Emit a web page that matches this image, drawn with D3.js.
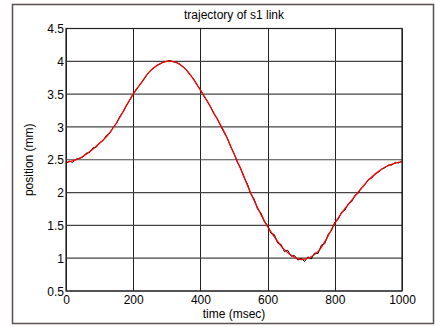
<!DOCTYPE html>
<html>
<head>
<meta charset="utf-8">
<script src="https://cdn.jsdelivr.net/npm/d3@7/dist/d3.min.js"></script>
<style>
  html, body { margin: 0; padding: 0; background: #fff; }
  svg { display: block; }
  text { font-family: "Liberation Sans", Arial, sans-serif; fill: #000; }
</style>
</head>
<body>
<svg id="chart" width="436" height="327"></svg>
<script>
// Reference (smooth) trajectory, sampled every 25 ms
const refTime = [0,25,50,75,100,125,150,175,200,225,250,275,300,325,350,375,400,425,450,475,500,
  525,550,575,600,625,650,675,700,725,750,775,800,825,850,875,900,925,950,975,1000];
const refPos = [2.46,2.49,2.55,2.64,2.75,2.88,3.06,3.28,3.50,3.68,3.85,3.95,4.00,3.99,3.91,3.76,3.56,
  3.35,3.12,2.88,2.59,2.30,1.99,1.72,1.48,1.29,1.13,1.03,0.98,1.01,1.10,1.29,1.53,1.72,1.88,2.04,
  2.19,2.30,2.39,2.44,2.47];

// Measured position of the s1 link, sampled every 10 ms
const measTime = d3.range(0, 1001, 10);
const measPos = [2.44,2.48,2.46,2.51,2.52,2.54,2.60,2.61,2.68,2.69,
  2.76,2.79,2.87,2.90,2.99,3.05,3.16,3.23,3.33,3.41,
  3.50,3.58,3.64,3.71,3.79,3.85,3.89,3.94,3.96,3.99,
  4.00,4.01,3.99,3.98,3.95,3.91,3.86,3.79,3.73,3.64,
  3.57,3.47,3.40,3.31,3.20,3.13,3.02,2.92,2.83,2.70,
  2.60,2.46,2.37,2.23,2.13,1.98,1.90,1.75,1.69,1.56,
  1.50,1.38,1.36,1.23,1.21,1.10,1.12,1.03,1.04,0.97,
  1.00,0.95,1.02,0.99,1.08,1.07,1.20,1.22,1.36,1.42,
  1.55,1.59,1.70,1.73,1.83,1.86,1.96,1.99,2.08,2.12,
  2.20,2.22,2.29,2.31,2.36,2.38,2.42,2.42,2.46,2.45,
  2.48];

const xTicks = [0, 200, 400, 600, 800, 1000];
const yTicks = [0.5, 1, 1.5, 2, 2.5, 3, 3.5, 4, 4.5];

const svg = d3.select("#chart");
const plot = { left: 66, right: 402, top: 28.5, bottom: 291 };
const fontSize = "12px";

// Outer figure frame
svg.append("rect")
  .attr("x", 12.5).attr("y", 4.5)
  .attr("width", 421).attr("height", 319)
  .attr("fill", "#fff")
  .attr("stroke", "#5b4f4f").attr("stroke-width", 1.5);

const x = d3.scaleLinear().domain([0, 1000]).range([plot.left, plot.right]);
const y = d3.scaleLinear().domain([0.5, 4.5]).range([plot.bottom, plot.top]);

// Grid
const grid = svg.append("g");
grid.selectAll("line.vx").data(xTicks).join("line")
  .attr("x1", d => Math.round(x(d)) + 0.5).attr("x2", d => Math.round(x(d)) + 0.5)
  .attr("y1", plot.top).attr("y2", plot.bottom)
  .attr("stroke", "#222").attr("stroke-width", 1);
grid.selectAll("line.hy").data(yTicks).join("line")
  .attr("x1", plot.left).attr("x2", plot.right)
  .attr("y1", d => y(d)).attr("y2", d => y(d))
  .attr("stroke", "#444").attr("stroke-width", 1.2);

// Axes
const xAxis = d3.axisBottom(x).tickValues(xTicks).tickSize(0).tickPadding(4)
  .tickFormat(d3.format("d"));
const yAxis = d3.axisLeft(y).tickValues(yTicks).tickSize(0).tickPadding(2)
  .tickFormat(d => String(d));

const gx = svg.append("g").attr("transform", `translate(0,${plot.bottom})`).call(xAxis);
const gy = svg.append("g").attr("transform", `translate(${plot.left},0)`).call(yAxis);
[gx, gy].forEach(g => {
  g.select(".domain").remove();
  g.selectAll("text").style("font-size", fontSize).style("font-family", "Liberation Sans, Arial, sans-serif");
});
gy.selectAll("text").attr("dy", "0.35em");

// Curves
const line = d3.line().x(d => x(d[0])).y(d => y(d[1]));
svg.append("path")
  .datum(measTime.map((t, i) => [t, measPos[i]]))
  .attr("d", line)
  .attr("fill", "none").attr("stroke", "#000").attr("stroke-width", 1);
svg.append("path")
  .datum(refTime.map((t, i) => [t, refPos[i]]))
  .attr("d", line.curve(d3.curveCatmullRom))
  .attr("fill", "none").attr("stroke", "#ff0000").attr("stroke-width", 1.3);

// Plot box
svg.append("rect")
  .attr("x", plot.left).attr("y", plot.top)
  .attr("width", plot.right - plot.left).attr("height", plot.bottom - plot.top)
  .attr("fill", "none").attr("stroke", "#222").attr("stroke-width", 1.2);

// Labels
svg.append("text")
  .attr("x", (plot.left + plot.right) / 2).attr("y", 18.5)
  .attr("text-anchor", "middle").style("font-size", fontSize)
  .text("trajectory of s1 link");
svg.append("text")
  .attr("x", (plot.left + plot.right) / 2).attr("y", 318)
  .attr("text-anchor", "middle").style("font-size", fontSize)
  .text("time (msec)");
svg.append("text")
  .attr("transform", `translate(33,${(plot.top + plot.bottom) / 2}) rotate(-90)`)
  .attr("text-anchor", "middle").style("font-size", fontSize)
  .text("position (mm)");
</script>
</body>
</html>
